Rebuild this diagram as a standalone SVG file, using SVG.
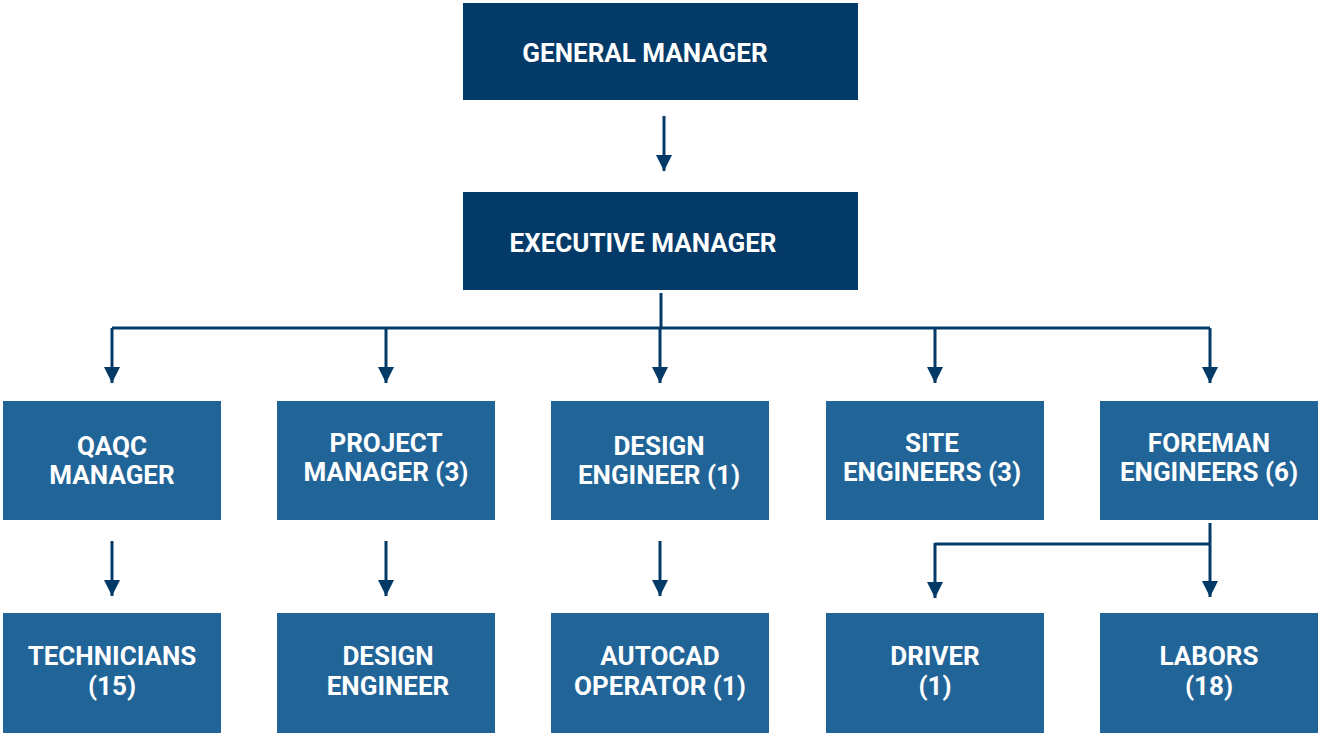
<svg xmlns="http://www.w3.org/2000/svg" width="1320" height="733" viewBox="0 0 1320 733">
<defs>
<style>
.top{fill:#033A67;}
.box{fill:#216498;}
.t{font-family:Roboto,"Liberation Sans",sans-serif;font-weight:bold;font-size:26px;fill:#fff;text-anchor:middle;}
.c{stroke:#033A67;stroke-width:3;fill:none;}
</style>
<marker id="ah" viewBox="0 0 10 10" refX="10" refY="5" markerWidth="16" markerHeight="18" markerUnits="userSpaceOnUse" orient="auto">
<path d="M0,0 L10,5 L0,10 Z" fill="#033A67"/>
</marker>
</defs>
<rect width="1320" height="733" fill="#fff"/>
<g id="connectors">
<line class="c" x1="664" y1="116" x2="664" y2="171" marker-end="url(#ah)"/>
<path class="c" d="M661,293 V328"/>
<path class="c" d="M112,328 H1210"/>
<line class="c" x1="112" y1="328" x2="112" y2="383" marker-end="url(#ah)"/>
<line class="c" x1="386" y1="328" x2="386" y2="383" marker-end="url(#ah)"/>
<line class="c" x1="660" y1="328" x2="660" y2="383" marker-end="url(#ah)"/>
<line class="c" x1="935" y1="328" x2="935" y2="383" marker-end="url(#ah)"/>
<line class="c" x1="1210" y1="328" x2="1210" y2="383" marker-end="url(#ah)"/>
<line class="c" x1="112" y1="541" x2="112" y2="596" marker-end="url(#ah)"/>
<line class="c" x1="386" y1="541" x2="386" y2="596" marker-end="url(#ah)"/>
<line class="c" x1="660" y1="541" x2="660" y2="596" marker-end="url(#ah)"/>
<line class="c" x1="1210" y1="523" x2="1210" y2="597" marker-end="url(#ah)"/>
<path class="c" d="M1210,544 H935"/>
<line class="c" x1="935" y1="543" x2="935" y2="598" marker-end="url(#ah)"/>
</g>
<g id="gm"><rect class="top" x="463" y="3" width="395" height="97"/><text class="t" x="645" y="62">GENERAL MANAGER</text></g>
<g id="em"><rect class="top" x="463" y="192" width="395" height="98"/><text class="t" x="643" y="252">EXECUTIVE MANAGER</text></g>
<g id="qaqc"><rect class="box" x="3" y="401" width="218" height="119"/><text class="t" x="112" y="455">QAQC</text><text class="t" x="112" y="484">MANAGER</text></g>
<g id="pm"><rect class="box" x="277" y="401" width="218" height="119"/><text class="t" x="386" y="452">PROJECT</text><text class="t" x="386" y="481">MANAGER (3)</text></g>
<g id="de"><rect class="box" x="551" y="401" width="218" height="119"/><text class="t" x="659" y="455">DESIGN</text><text class="t" x="659" y="484">ENGINEER (1)</text></g>
<g id="se"><rect class="box" x="826" y="401" width="218" height="119"/><text class="t" x="932" y="452">SITE</text><text class="t" x="932" y="481">ENGINEERS (3)</text></g>
<g id="fe"><rect class="box" x="1100" y="401" width="218" height="119"/><text class="t" x="1209" y="452">FOREMAN</text><text class="t" x="1209" y="481">ENGINEERS (6)</text></g>
<g id="tech"><rect class="box" x="3" y="613" width="218" height="120"/><text class="t" x="112" y="665">TECHNICIANS</text><text class="t" x="112" y="695">(15)</text></g>
<g id="de2"><rect class="box" x="277" y="613" width="218" height="120"/><text class="t" x="388" y="665">DESIGN</text><text class="t" x="388" y="695">ENGINEER</text></g>
<g id="ac"><rect class="box" x="551" y="613" width="218" height="120"/><text class="t" x="660" y="665">AUTOCAD</text><text class="t" x="660" y="695">OPERATOR (1)</text></g>
<g id="dr"><rect class="box" x="826" y="613" width="218" height="120"/><text class="t" x="935" y="665">DRIVER</text><text class="t" x="935" y="695">(1)</text></g>
<g id="lab"><rect class="box" x="1100" y="613" width="218" height="120"/><text class="t" x="1209" y="665">LABORS</text><text class="t" x="1209" y="695">(18)</text></g>
</svg>
